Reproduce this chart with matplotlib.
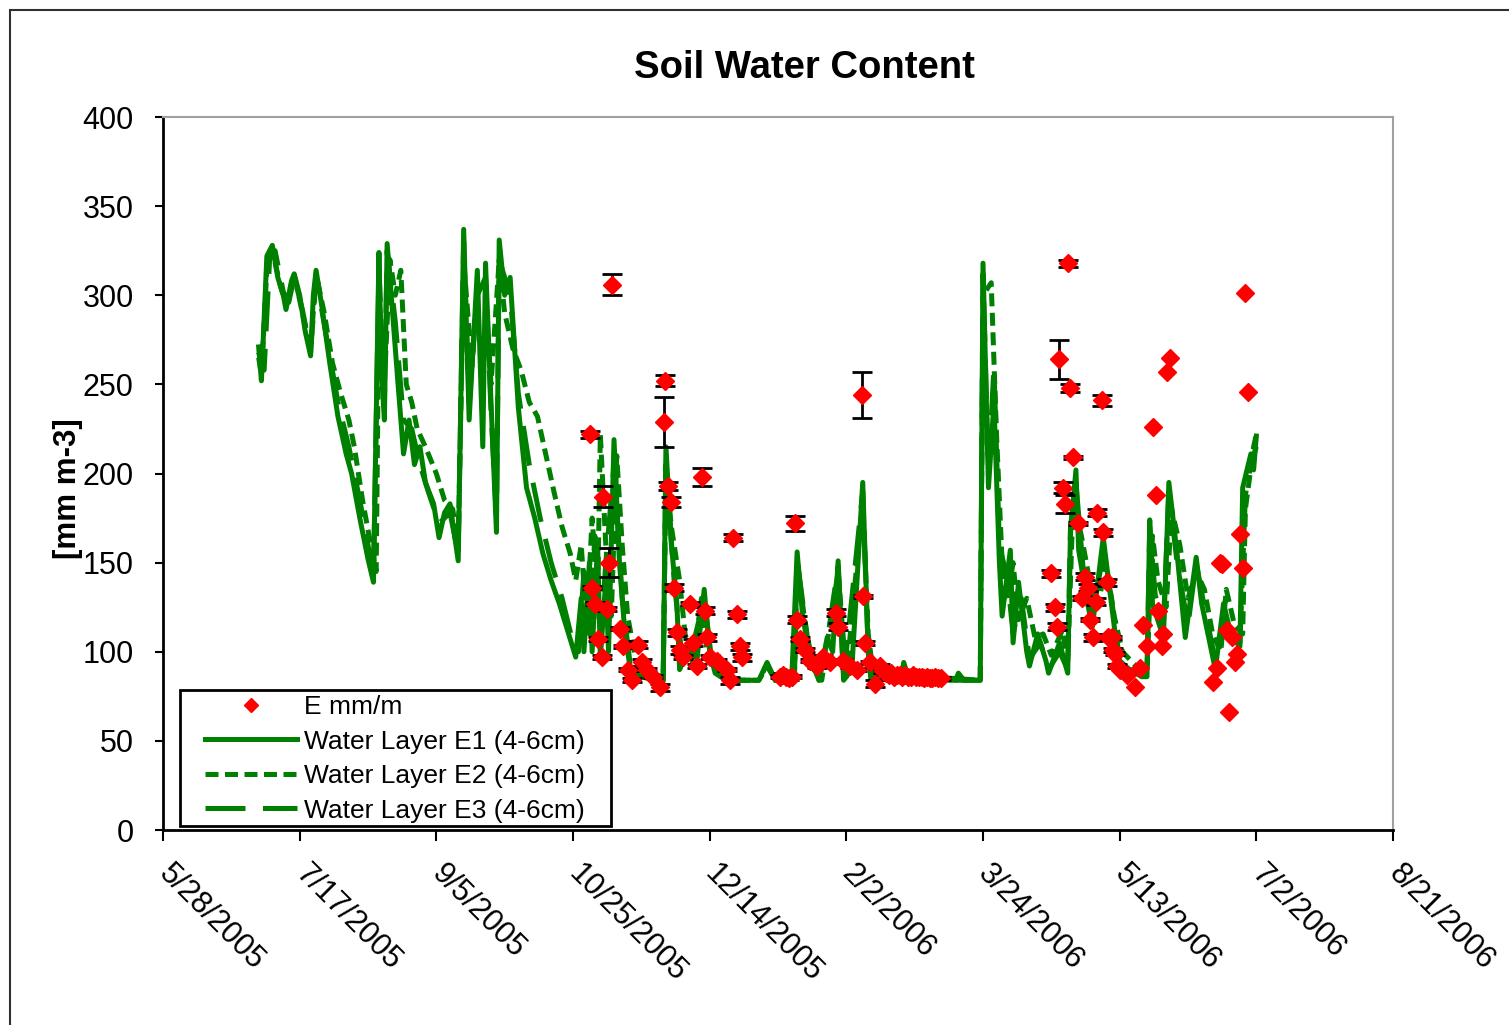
import numpy as np
import matplotlib
matplotlib.use("Agg")
import matplotlib.pyplot as plt
from matplotlib.lines import Line2D
from matplotlib.patches import Rectangle

plt.rcParams['font.family'] = ['Liberation Sans', 'DejaVu Sans']

# x values are days counted from 5/28/2005
tick_days = [0, 50, 100, 150, 200, 250, 300, 350, 400, 450]
tick_labels = ["5/28/2005", "7/17/2005", "9/5/2005", "10/25/2005", "12/14/2005",
               "2/2/2006", "3/24/2006", "5/13/2006", "7/2/2006", "8/21/2006"]

# Water Layer E1 (solid)
e1_day = [35, 36, 38, 40, 42, 44, 45, 47, 48, 50, 52, 54, 55, 56, 58, 61, 64, 67, 69, 72,
          75, 77, 79, 80, 81, 82, 84, 86, 88, 90, 92, 94, 96, 99, 101, 103, 105, 108, 110, 112,
          115, 117, 118, 120, 122, 123, 125, 127, 130, 133, 136, 139, 142, 145, 148, 151, 153, 154, 156, 157,
          159, 160, 162, 163, 165, 167, 169, 171, 175, 180, 183, 184, 186, 188, 189, 192, 195, 198, 200, 202,
          206, 218, 221, 224, 230, 232, 234, 237, 240, 243, 245, 247, 249, 252, 256, 258, 259, 270, 271, 273,
          290, 291, 293, 299, 300, 302, 304, 306, 307, 310, 311, 313, 316, 317, 320, 323, 324, 328, 331, 332,
          334, 335, 338, 340, 344, 346, 350, 354, 358, 360, 361, 362, 366, 368, 371, 374, 378, 380, 385, 388,
          391, 394, 395, 398, 399, 400]
e1_val = [271, 252, 322, 328, 310, 300, 292, 308, 312, 300, 280, 266, 300, 314, 295, 262, 232, 211, 200, 175,
          152, 139, 324, 255, 230, 329, 290, 250, 211, 230, 205, 215, 195, 183, 164, 178, 183, 151, 337, 230,
          314, 215, 318, 240, 167, 331, 300, 310, 237, 192, 175, 155, 140, 127, 112, 97, 130, 100, 150, 100,
          160, 97, 140, 100, 219, 150, 110, 90, 86, 84, 84, 215, 160, 127, 90, 100, 90, 135, 100, 88,
          84, 84, 94, 84, 84, 156, 120, 95, 84, 108, 100, 151, 84, 90, 195, 100, 84, 85, 94, 84,
          84, 88, 84, 84, 318, 192, 240, 150, 120, 157, 105, 139, 100, 92, 110, 95, 88, 105, 88, 167,
          202, 157, 129, 114, 164, 139, 90, 90, 86, 86, 174, 127, 108, 195, 155, 108, 153, 127, 90, 127,
          108, 103, 192, 211, 202, 221]

# Water Layer E2 (short dash)
e2_day = [35, 36, 38, 40, 43, 45, 48, 51, 54, 56, 59, 62, 65, 68, 70, 73, 76, 78, 79, 81,
          83, 85, 87, 89, 91, 93, 96, 100, 103, 106, 108, 110, 113, 115, 118, 120, 123, 125, 128, 131,
          134, 137, 140, 143, 146, 149, 151, 153, 155, 157, 159, 160, 162, 164, 166, 168, 170, 173, 178, 183,
          184, 186, 189, 191, 194, 197, 199, 203, 208, 218, 221, 224, 231, 232, 235, 238, 241, 243, 247, 250,
          256, 258, 260, 272, 290, 299, 300, 303, 305, 307, 309, 311, 313, 316, 319, 322, 325, 329, 331, 333,
          336, 339, 342, 345, 348, 351, 356, 360, 362, 364, 367, 369, 372, 375, 378, 381, 384, 387, 389, 392,
          395, 396, 399, 400]
e2_val = [265, 255, 315, 325, 305, 295, 312, 290, 270, 312, 290, 262, 245, 230, 215, 185, 160, 145, 300, 250,
          320, 300, 314, 250, 240, 225, 215, 200, 185, 180, 160, 320, 260, 305, 300, 250, 320, 290, 270, 258,
          240, 232, 211, 190, 170, 155, 140, 160, 115, 175, 130, 222, 160, 120, 210, 160, 120, 95, 88, 86,
          200, 170, 140, 110, 95, 130, 100, 88, 84, 84, 92, 84, 84, 150, 115, 90, 84, 105, 145, 86,
          185, 110, 86, 86, 85, 84, 300, 307, 220, 150, 130, 150, 118, 130, 108, 110, 98, 112, 95, 185,
          165, 140, 125, 150, 120, 100, 92, 90, 165, 140, 125, 180, 160, 130, 145, 135, 110, 100, 135, 115,
          110, 180, 215, 222]

# Water Layer E3 (long dash)
e3_day = [35, 37, 39, 41, 44, 46, 48, 51, 54, 56, 60, 64, 68, 72, 75, 77, 79, 81, 82, 85,
          88, 91, 94, 97, 101, 105, 108, 110, 112, 115, 118, 120, 122, 123, 127, 130, 134, 138, 142, 146,
          150, 152, 154, 156, 158, 160, 162, 165, 168, 171, 176, 183, 184, 187, 190, 193, 198, 201, 206, 218,
          221, 224, 231, 232, 236, 240, 243, 247, 249, 256, 258, 260, 290, 299, 300, 302, 304, 306, 309, 311,
          314, 317, 321, 324, 328, 331, 332, 334, 337, 340, 344, 347, 350, 355, 360, 361, 363, 366, 368, 371,
          375, 378, 381, 385, 388, 392, 394, 396, 398, 400]
e3_val = [268, 258, 320, 325, 302, 296, 310, 292, 268, 310, 275, 240, 215, 185, 160, 142, 315, 240, 325, 285,
          230, 225, 205, 190, 172, 178, 155, 330, 240, 300, 310, 235, 175, 320, 300, 245, 205, 175, 150, 130,
          105, 100, 145, 110, 165, 105, 150, 205, 130, 92, 86, 84, 205, 140, 95, 98, 130, 92, 84, 84,
          93, 84, 84, 152, 105, 84, 106, 148, 85, 190, 100, 84, 84, 84, 312, 200, 260, 160, 140, 110,
          130, 96, 105, 90, 100, 90, 170, 195, 140, 120, 155, 130, 95, 88, 88, 170, 132, 115, 190, 150,
          115, 150, 125, 95, 120, 106, 105, 188, 205, 215]

# E mm/m observations and their error (0 = no error bar)
obs_day = [156.2, 161.0, 163.2, 164.3, 157.0, 158.0, 162.4, 159.1, 160.6, 167.2,
           168.3, 170.1, 171.6, 173.8, 175.3, 177.1, 179.3, 181.8, 183.3, 183.7,
           184.8, 185.9, 187.0, 188.1, 189.2, 190.2, 192.8, 193.9, 195.4, 197.2,
           198.3, 199.0, 200.1, 202.7, 206.3, 207.4, 208.5, 210.0, 211.1, 211.8,
           225.7, 226.8, 227.9, 229.0, 230.1, 231.2, 232.0, 233.0, 234.9, 236.7,
           239.3, 241.5, 244.0, 246.2, 247.0, 248.8, 251.3, 253.9, 255.7, 256.1,
           256.8, 258.7, 260.5, 262.3, 263.5, 264.5, 265.5, 266.5, 267.5, 268.5,
           269.5, 270.5, 271.5, 272.5, 273.5, 274.5, 275.5, 276.5, 277.5, 278.5,
           279.5, 280.5, 281.5, 282.5, 283.5, 284.5,
           324.9, 326.3, 327.1, 327.8, 329.3, 330.0, 331.1, 331.8, 332.9, 334.8,
           336.2, 337.3, 338.4, 339.1, 340.2, 341.3, 341.7, 343.5, 343.9, 345.4,
           345.7, 347.2, 347.6, 348.3, 349.0, 350.1, 352.7, 355.6, 357.4, 358.5,
           360.0, 362.2, 363.3, 364.1, 365.5, 365.9, 367.3, 368.4, 384.1, 385.6,
           386.7, 387.4, 389.3, 390.0, 391.1, 392.2, 392.9, 394.0, 395.1, 395.9, 397.0]
obs_val = [222, 187, 150, 306, 136, 127, 124, 107, 97, 113,
           103, 90, 84, 104, 94, 90, 86, 80, 229, 252,
           193, 184, 136, 111, 101, 97, 127, 105, 92, 198,
           123, 108, 97, 95, 90, 84, 164, 121, 103, 97,
           86, 87, 86, 85, 86, 172, 118, 107, 101, 95,
           92, 97, 94, 122, 114, 95, 92, 90, 244, 131,
           105, 94, 82, 92, 89, 88, 87, 88, 86, 87,
           87, 86, 87, 86, 86, 87, 86, 86, 86, 85,
           86, 85, 85, 86, 85, 85,
           144, 125, 114, 264, 192, 183, 318, 248, 209, 172,
           130, 142, 136, 118, 108, 128, 178, 241, 167, 139,
           108, 108, 101, 99, 92, 90, 87, 80, 91, 115,
           103, 226, 188, 123, 103, 110, 257, 265, 83, 91,
           150, 149, 112, 66, 108, 94, 99, 166, 147, 301, 246]
obs_err = [2, 6, 8, 6, 1, 1, 1, 1, 1, 1,
           1, 1, 1, 2, 2, 1, 1, 2, 14, 3,
           2, 3, 2, 2, 2, 1, 1, 2, 1, 5,
           2, 2, 1, 1, 1, 2, 2, 2, 2, 2,
           1, 1, 1, 1, 1, 4, 2, 1, 1, 1,
           1, 1, 1, 2, 2, 1, 1, 1, 13, 1,
           1, 1, 2, 1, 1, 1, 1, 1, 1, 1,
           1, 1, 1, 1, 1, 1, 1, 1, 1, 1,
           1, 1, 1, 1, 1, 1,
           2, 2, 2, 11, 3, 5, 2, 2, 1, 1,
           1, 2, 2, 1, 2, 2, 2, 3, 2, 2,
           1, 1, 1, 1, 1, 0, 0, 0, 0, 0,
           0, 0, 0, 0, 0, 0, 0, 0, 0, 0,
           0, 0, 0, 0, 0, 0, 0, 0, 0, 0, 0]

green = '#008000'

fig = plt.figure(figsize=(15.09, 10.25), dpi=100)
fig.patches.append(Rectangle((10 / 1509, -0.1), 1.2, 1.1 - 10 / 1025, transform=fig.transFigure,
                             fill=False, edgecolor='#303030', linewidth=1.5))
ax = fig.add_axes([163 / 1509, 195 / 1025, 1230 / 1509, 713 / 1025])

l1, = ax.plot(e1_day, e1_val, color=green, lw=3.6, zorder=2)
l2, = ax.plot(e2_day, e2_val, color=green, lw=3.6, dashes=(2.6, 1.3), zorder=2)
l3, = ax.plot(e3_day, e3_val, color=green, lw=3.6, dashes=(8, 3.5), zorder=2)

od = np.array(obs_day)
ov = np.array(obs_val)
oe = np.array(obs_err)
m = oe > 0
ax.errorbar(od[m], ov[m], yerr=oe[m], fmt='none', ecolor='black', elinewidth=2,
            capsize=7, capthick=2, zorder=3)
ax.plot(od, ov, 'D', color='#ff0000', ms=9, mec='#ff0000', zorder=4)

ax.set_xlim(0, 450)
ax.set_ylim(0, 400)
ax.set_yticks(range(0, 401, 50))
ax.set_xticks(tick_days)
ax.set_xticklabels(tick_labels)
ax.tick_params(axis='y', direction='out', length=6, width=1.5, labelsize=22, pad=15)
ax.tick_params(axis='x', direction='out', length=8, width=1.5, labelsize=22, pad=20)
for lab in ax.get_xticklabels():
    lab.set_rotation(-45)
    lab.set_rotation_mode('anchor')
    lab.set_ha('left')
    lab.set_va('center')

for s in ['left', 'bottom']:
    ax.spines[s].set_color('black')
    ax.spines[s].set_linewidth(2)
for s in ['top', 'right']:
    ax.spines[s].set_color('#a0a0a0')
    ax.spines[s].set_linewidth(1.5)

# legend box drawn by hand (Excel style: wide left margin, tight top)
ax.add_patch(Rectangle((180 / 1509, 1 - 826 / 1025), 431 / 1509, 136 / 1025,
                       transform=fig.transFigure, facecolor='white', edgecolor='black',
                       linewidth=2, zorder=5))
marker_h = Line2D([], [], ls='none', marker='D', color='#ff0000', ms=7)
leg = ax.legend([marker_h, l1, l2, l3],
                ['E mm/m', 'Water Layer E1 (4-6cm)', 'Water Layer E2 (4-6cm)', 'Water Layer E3 (4-6cm)'],
                loc='upper left', bbox_to_anchor=(42 / 1230, 135 / 713), borderaxespad=0,
                borderpad=0, fontsize=19, handlelength=3.5, handletextpad=0.27, labelspacing=0.4,
                frameon=False)
leg.set_zorder(6)

fig.text(804 / 1509, 1 - 68 / 1025, 'Soil Water Content', ha='center', va='center',
         fontsize=27.5, fontweight='bold')
fig.text(68 / 1509, 1 - 489 / 1025, '[mm m-3]', ha='center', va='center', rotation=90,
         fontsize=22.5, fontweight='bold')

fig.savefig('out.png', dpi=100)
